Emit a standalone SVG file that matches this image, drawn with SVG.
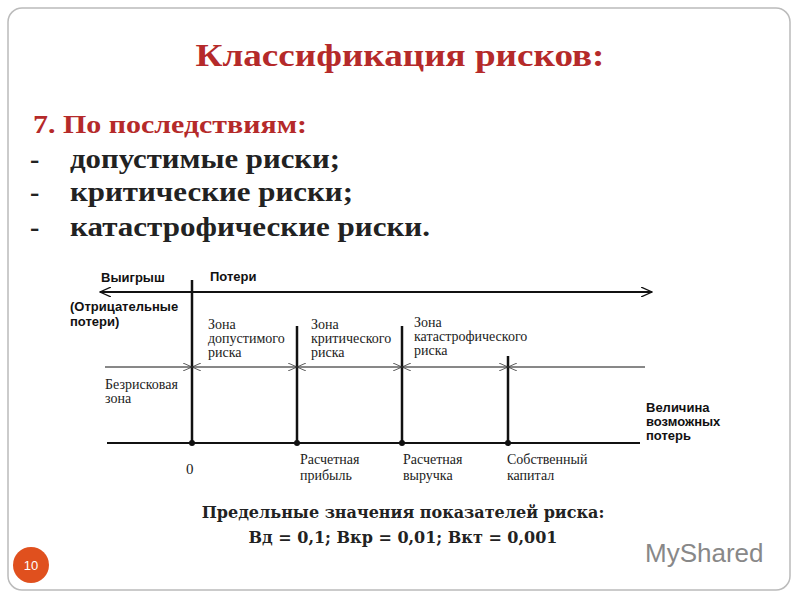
<svg xmlns="http://www.w3.org/2000/svg" width="800" height="600" viewBox="0 0 800 600">
<style>
.ser{font-family:"DejaVu Serif","Liberation Serif",serif}
.ls{font-family:"Liberation Serif",serif}
.bs{font-family:"Liberation Sans",Arial,sans-serif;font-weight:bold;font-size:13px;fill:#111}
.sm{font-family:"Liberation Serif",serif;font-size:14px;fill:#222}
.ln{stroke:#111;fill:none}
</style>
<defs>
<marker id="ah" markerWidth="12" markerHeight="10" refX="11" refY="5" orient="auto-start-reverse" markerUnits="userSpaceOnUse"><path d="M0,0 L11,5 L0,10" fill="none" stroke="#111" stroke-width="1.3"/></marker>
<marker id="sm" markerWidth="10" markerHeight="8" refX="9" refY="4" orient="auto-start-reverse" markerUnits="userSpaceOnUse"><path d="M0,0 L9,4 L0,8" fill="none" stroke="#333" stroke-width="0.8"/></marker>
</defs>
<rect width="800" height="600" fill="#fff"/>
<rect x="8" y="8" width="782" height="582" rx="14" fill="#fff" stroke="#bbb" stroke-width="1.5"/>
<text x="400" y="66" text-anchor="middle" class="ls" font-size="31" font-weight="bold" fill="#b52a2a" textLength="409" lengthAdjust="spacingAndGlyphs">Классификация рисков:</text>
<text x="33" y="133" class="ls" font-size="26" font-weight="bold" fill="#b52a2a" textLength="274" lengthAdjust="spacingAndGlyphs">7. По последствиям:</text>
<g class="ls" font-size="28" font-weight="bold" fill="#222">
<text x="30" y="168">-</text><text x="70" y="168" textLength="270" lengthAdjust="spacingAndGlyphs">допустимые риски;</text>
<text x="30" y="201">-</text><text x="70" y="201" textLength="283" lengthAdjust="spacingAndGlyphs">критические риски;</text>
<text x="30" y="236">-</text><text x="70" y="236" textLength="360" lengthAdjust="spacingAndGlyphs">катастрофические риски.</text>
</g>
<g id="connectors">
<line x1="100" y1="292" x2="652" y2="292" class="ln" stroke-width="1.8" marker-start="url(#ah)" marker-end="url(#ah)"/>
<line x1="192" y1="280" x2="192" y2="443" class="ln" stroke-width="2.5"/>
<line x1="297" y1="326" x2="297" y2="443" class="ln" stroke-width="2.5"/>
<line x1="402" y1="326" x2="402" y2="443" class="ln" stroke-width="2.5"/>
<line x1="508" y1="356" x2="508" y2="443" class="ln" stroke-width="2.5"/>
<line x1="105" y1="367" x2="645" y2="367" class="ln" stroke-width="1"/>
<line x1="182" y1="367" x2="192" y2="367" class="ln" stroke-width="0" marker-end="url(#sm)"/>
<line x1="202" y1="367" x2="192" y2="367" class="ln" stroke-width="0" marker-end="url(#sm)"/>
<line x1="287" y1="367" x2="297" y2="367" class="ln" stroke-width="0" marker-end="url(#sm)"/>
<line x1="307" y1="367" x2="297" y2="367" class="ln" stroke-width="0" marker-end="url(#sm)"/>
<line x1="392" y1="367" x2="402" y2="367" class="ln" stroke-width="0" marker-end="url(#sm)"/>
<line x1="412" y1="367" x2="402" y2="367" class="ln" stroke-width="0" marker-end="url(#sm)"/>
<line x1="498" y1="367" x2="508" y2="367" class="ln" stroke-width="0" marker-end="url(#sm)"/>
<line x1="518" y1="367" x2="508" y2="367" class="ln" stroke-width="0" marker-end="url(#sm)"/>
<line x1="107" y1="443" x2="640" y2="443" class="ln" stroke-width="2"/>
<g fill="#111"><circle cx="192" cy="443" r="3"/><circle cx="297" cy="443" r="3"/><circle cx="402" cy="443" r="3"/><circle cx="508" cy="443" r="3"/></g>
</g>
<g id="labels">
<text x="101" y="282" class="bs" font-size="12">Выигрыш</text>
<text x="210" y="281" class="bs" font-size="12">Потери</text>
<text x="70" y="311" class="bs">(Отрицательные</text>
<text x="70" y="326" class="bs">потери)</text>
<text class="sm" x="208" y="329">Зона</text><text class="sm" x="208" y="343">допустимого</text><text class="sm" x="208" y="357">риска</text>
<text class="sm" x="311" y="329">Зона</text><text class="sm" x="311" y="343">критического</text><text class="sm" x="311" y="357">риска</text>
<text class="sm" x="414" y="327">Зона</text><text class="sm" x="414" y="341">катастрофического</text><text class="sm" x="414" y="355">риска</text>
<text class="sm" x="105" y="389">Безрисковая</text><text class="sm" x="105" y="403">зона</text>
<text class="ls" x="186" y="474" font-size="15" fill="#222">0</text>
<text class="sm" x="300" y="464">Расчетная</text><text class="sm" x="300" y="480">прибыль</text>
<text class="sm" x="403" y="464">Расчетная</text><text class="sm" x="403" y="480">выручка</text>
<text class="sm" x="507" y="464">Собственный</text><text class="sm" x="507" y="480">капитал</text>
<text x="646" y="412" class="bs">Величина</text>
<text x="646" y="426" class="bs">возможных</text>
<text x="646" y="440" class="bs">потерь</text>
</g>
<text x="403" y="518" text-anchor="middle" class="ser" font-size="16" font-weight="bold" fill="#222">Предельные значения показателей риска:</text>
<text x="403" y="543" text-anchor="middle" class="ser" font-size="16" font-weight="bold" fill="#222">Вд = 0,1; Вкр = 0,01; Вкт = 0,001</text>
<circle cx="31" cy="565" r="18" fill="#e0501e"/>
<text x="31" y="570" text-anchor="middle" font-family="Liberation Sans,sans-serif" font-size="13" fill="#fff">10</text>
<text x="645" y="562" font-family="Liberation Sans,sans-serif" font-size="26" fill="#888">MyShared</text>
</svg>
